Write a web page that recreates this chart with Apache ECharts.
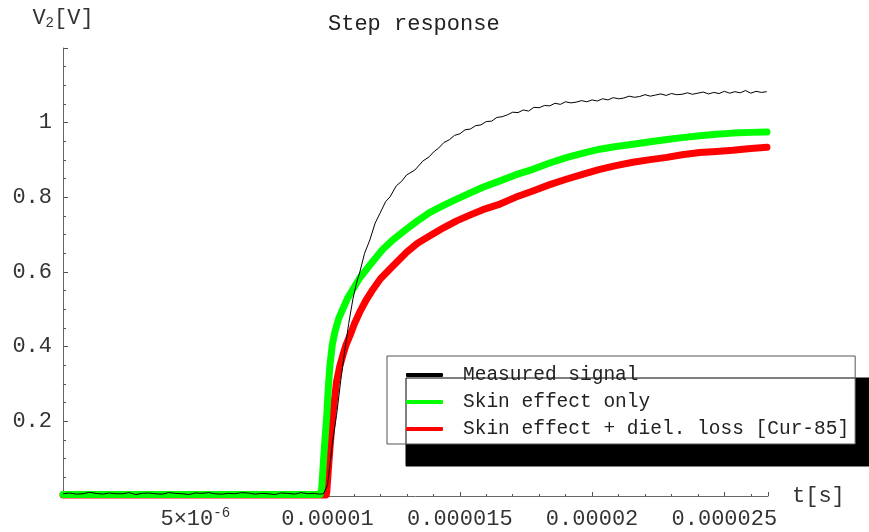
<!DOCTYPE html>
<html style="height: 100%">
<head>
    <meta charset="utf-8">
    <script src="https://cdn.jsdelivr.net/npm/echarts@6/dist/echarts.min.js"></script>
    <title>Step response</title>
</head>
<body style="height: 100%; margin: 0">
<div id="container" style="width: 869px; height: 532px"></div>
<script type="text/javascript">
    // time in microseconds, voltage in volts
    let measuredT = [0, 0.25, 0.5, 0.75, 1.0, 1.25, 1.5, 1.75, 2.0, 2.25, 2.5, 2.75, 3.0, 3.25, 3.5, 3.75, 4.0, 4.25,
        4.5, 4.75, 5.0, 5.25, 5.5, 5.75, 6.0, 6.25, 6.5, 6.75, 7.0, 7.25, 7.5, 7.75, 8.0, 8.25, 8.5, 8.75, 9.0, 9.25,
        9.5, 9.7, 9.85,
        10.0, 10.1, 10.2, 10.34, 10.5, 10.66, 10.8, 10.96, 11.1, 11.22, 11.4, 11.6, 11.8, 11.98, 12.2, 12.36, 12.6, 12.8,
        12.99, 13.3, 13.6, 13.85, 14.0,
        14.2, 14.4, 14.6, 14.8, 15.0, 15.2, 15.4, 15.6, 15.8, 16.0, 16.2, 16.4, 16.6, 16.8, 17.0, 17.2, 17.4, 17.6, 17.8,
        18.0, 18.2, 18.4, 18.6, 18.8, 19.0, 19.2, 19.4, 19.6, 19.8, 20.0, 20.2, 20.4, 20.6, 20.8, 21.0, 21.2, 21.4, 21.6,
        21.8, 22.0, 22.2, 22.4, 22.6, 22.8, 23.0, 23.2, 23.4, 23.6, 23.8, 24.0, 24.2, 24.4, 24.6, 24.8, 25.0, 25.2, 25.4,
        25.6, 25.8, 26.0, 26.2, 26.4, 26.6]
    let measuredV = [0.006, 0.008, 0.005, 0.006, 0.010, 0.007, 0.005, 0.008, 0.006, 0.006, 0.009, 0.004, 0.007, 0.008,
        0.006, 0.005, 0.009, 0.007, 0.006, 0.004, 0.008, 0.007, 0.009, 0.006, 0.005, 0.007, 0.006, 0.009, 0.008, 0.005,
        0.007, 0.006, 0.004, 0.008, 0.007, 0.005, 0.009, 0.006, 0.007, 0.005, 0.006,
        0.03, 0.09, 0.15, 0.216, 0.31, 0.394, 0.462, 0.528, 0.572, 0.600, 0.650, 0.686, 0.731, 0.757, 0.789, 0.801,
        0.831, 0.843, 0.860, 0.873, 0.897, 0.909, 0.921,
        0.932, 0.947, 0.954, 0.966, 0.970, 0.981, 0.983, 0.992, 0.994, 1.003, 1.004, 1.014, 1.016, 1.021, 1.028, 1.027,
        1.034, 1.031, 1.041, 1.040, 1.046, 1.045, 1.052, 1.049, 1.056, 1.053, 1.055, 1.059, 1.056, 1.061, 1.058, 1.064,
        1.061, 1.067, 1.064, 1.066, 1.071, 1.068, 1.070, 1.075, 1.071, 1.074, 1.077, 1.073, 1.078, 1.075, 1.076, 1.080,
        1.076, 1.079, 1.082, 1.077, 1.081, 1.078, 1.084, 1.079, 1.083, 1.080, 1.086, 1.079, 1.084, 1.081, 1.083]

    let skinT = [0, 9.72, 9.78, 9.87, 9.97, 10.03, 10.09, 10.18, 10.28, 10.42, 10.58, 10.76, 10.96, 11.2, 11.48, 11.8,
        12.09, 12.5, 12.99, 13.4, 13.87, 14.4, 14.88, 15.4, 15.87, 16.52, 17.1, 17.76, 18.4, 19.05, 19.7, 20.29, 20.9,
        21.54, 22.2, 22.83, 23.4, 24.07, 24.7, 25.32, 26.0, 26.61]
    let skinV = [0.004, 0.004, 0.02, 0.12, 0.216, 0.29, 0.350, 0.405, 0.440, 0.475, 0.501, 0.530, 0.554, 0.582, 0.608,
        0.636, 0.661, 0.688, 0.715, 0.737, 0.760, 0.779, 0.795, 0.812, 0.827, 0.844, 0.860, 0.875, 0.892, 0.907, 0.919,
        0.929, 0.936, 0.942, 0.949, 0.955, 0.960, 0.965, 0.969, 0.972, 0.974, 0.975]

    let dielT = [0, 9.95, 9.97, 10.03, 10.09, 10.2, 10.34, 10.46, 10.58, 10.7, 10.85, 11.02, 11.22, 11.46, 11.72, 12.0,
        12.36, 12.99, 13.4, 13.87, 14.4, 14.88, 15.4, 15.87, 16.52, 17.1, 17.76, 18.4, 19.05, 19.7, 20.29, 20.9, 21.54,
        22.2, 22.83, 23.4, 24.07, 24.7, 25.32, 26.0, 26.61]
    let dielV = [0.003, 0.003, 0.01, 0.07, 0.127, 0.22, 0.306, 0.347, 0.377, 0.405, 0.430, 0.462, 0.493, 0.525, 0.554,
        0.582, 0.608, 0.653, 0.677, 0.697, 0.719, 0.737, 0.753, 0.767, 0.782, 0.800, 0.817, 0.834, 0.849, 0.863, 0.875,
        0.885, 0.894, 0.901, 0.907, 0.914, 0.920, 0.923, 0.926, 0.931, 0.934]

    let seriesNames = ['Measured signal', 'Skin effect only', 'Skin effect + diel. loss [Cur-85]']

    let xTickValues = [5, 10, 15, 20, 25]
    let xTickLabels = ['{a|5×10}{s|-6}', '0.00001', '0.000015', '0.00002', '0.000025']
    let yTickValues = [0.2, 0.4, 0.6, 0.8, 1]
    let yTickLabels = ['0.2', '0.4', '0.6', '0.8', '1']

    const FONT = 'Liberation Mono'

    function zip(ts, vs) {
        let out = []
        for (let i = 0; i < ts.length; i++) out.push([ts[i], vs[i]])
        return out
    }
    function lookup(values, labels, v) {
        for (let i = 0; i < values.length; i++) {
            if (Math.abs(values[i] - v) < 1e-9) return labels[i]
        }
        return ''
    }

    let dom = document.getElementById('container')
    let chart = echarts.init(dom)
    chart.setOption({
        animation: false,
        backgroundColor: '#fff',
        title: {
            text: 'Step response',
            left: 328, top: 13, padding: 0,
            textStyle: {fontFamily: FONT, fontSize: 22, fontWeight: 'normal', color: '#222'}
        },
        legend: {
            data: seriesNames,
            orient: 'vertical',
            left: 387, top: 356,
            padding: [9, 6, 5, 19],
            itemGap: 7,
            itemWidth: 37, itemHeight: 4,
            icon: 'roundRect',
            backgroundColor: '#fff',
            borderColor: '#555', borderWidth: 1,
            shadowColor: '#000', shadowBlur: 0, shadowOffsetX: 19, shadowOffsetY: 22,
            textStyle: {fontFamily: FONT, fontSize: 19.5, lineHeight: 20, color: '#222', padding: [0, 0, 0, 15]}
        },
        grid: {left: 63, right: 101, top: 48, bottom: 34},
        xAxis: {
            type: 'value', min: 0, max: 26.65, interval: 5,
            name: 't[s]', nameLocation: 'end', nameGap: 24,
            nameTextStyle: {fontFamily: FONT, fontSize: 22, color: '#333'},
            axisLine: {lineStyle: {color: '#666', width: 1}},
            axisTick: {inside: true, length: 4, lineStyle: {color: '#555'}},
            minorTick: {show: true, splitNumber: 5, length: 2, lineStyle: {color: '#555'}},
            splitLine: {show: false},
            axisLabel: {
                margin: 10, fontFamily: FONT, fontSize: 22, color: '#333', lineHeight: 26,
                formatter: v => lookup(xTickValues, xTickLabels, v),
                rich: {
                    a: {fontFamily: FONT, fontSize: 22, color: '#333', lineHeight: 26},
                    s: {fontFamily: FONT, fontSize: 14, color: '#333', lineHeight: 14, verticalAlign: 'top'}
                }
            }
        },
        yAxis: {
            type: 'value', min: 0, max: 1.2, interval: 0.2,
            name: '{v|V}{s|2}{v|[V]}', nameLocation: 'end', nameGap: 18,
            nameTextStyle: {
                rich: {
                    v: {fontFamily: FONT, fontSize: 22, color: '#333', lineHeight: 24},
                    s: {fontFamily: FONT, fontSize: 14, color: '#333', lineHeight: 14, verticalAlign: 'bottom'}
                }
            },
            axisLine: {lineStyle: {color: '#666', width: 1}},
            axisTick: {inside: true, length: 5, lineStyle: {color: '#555'}},
            minorTick: {show: true, splitNumber: 4, length: 3, lineStyle: {color: '#555'}},
            splitLine: {show: false},
            axisLabel: {
                margin: 11, fontFamily: FONT, fontSize: 22, color: '#333',
                formatter: v => lookup(yTickValues, yTickLabels, v)
            }
        },
        series: [
            {
                name: seriesNames[2], type: 'line', data: zip(dielT, dielV), showSymbol: false,
                color: '#ff0000', lineStyle: {width: 7, cap: 'round', join: 'round'}
            },
            {
                name: seriesNames[1], type: 'line', data: zip(skinT, skinV), showSymbol: false,
                color: '#00ff00', lineStyle: {width: 7, cap: 'round', join: 'round'}
            },
            {
                name: seriesNames[0], type: 'line', data: zip(measuredT, measuredV), showSymbol: false,
                color: '#000000', lineStyle: {width: 1}
            }
        ]
    }, true)
</script>
</body>
</html>
